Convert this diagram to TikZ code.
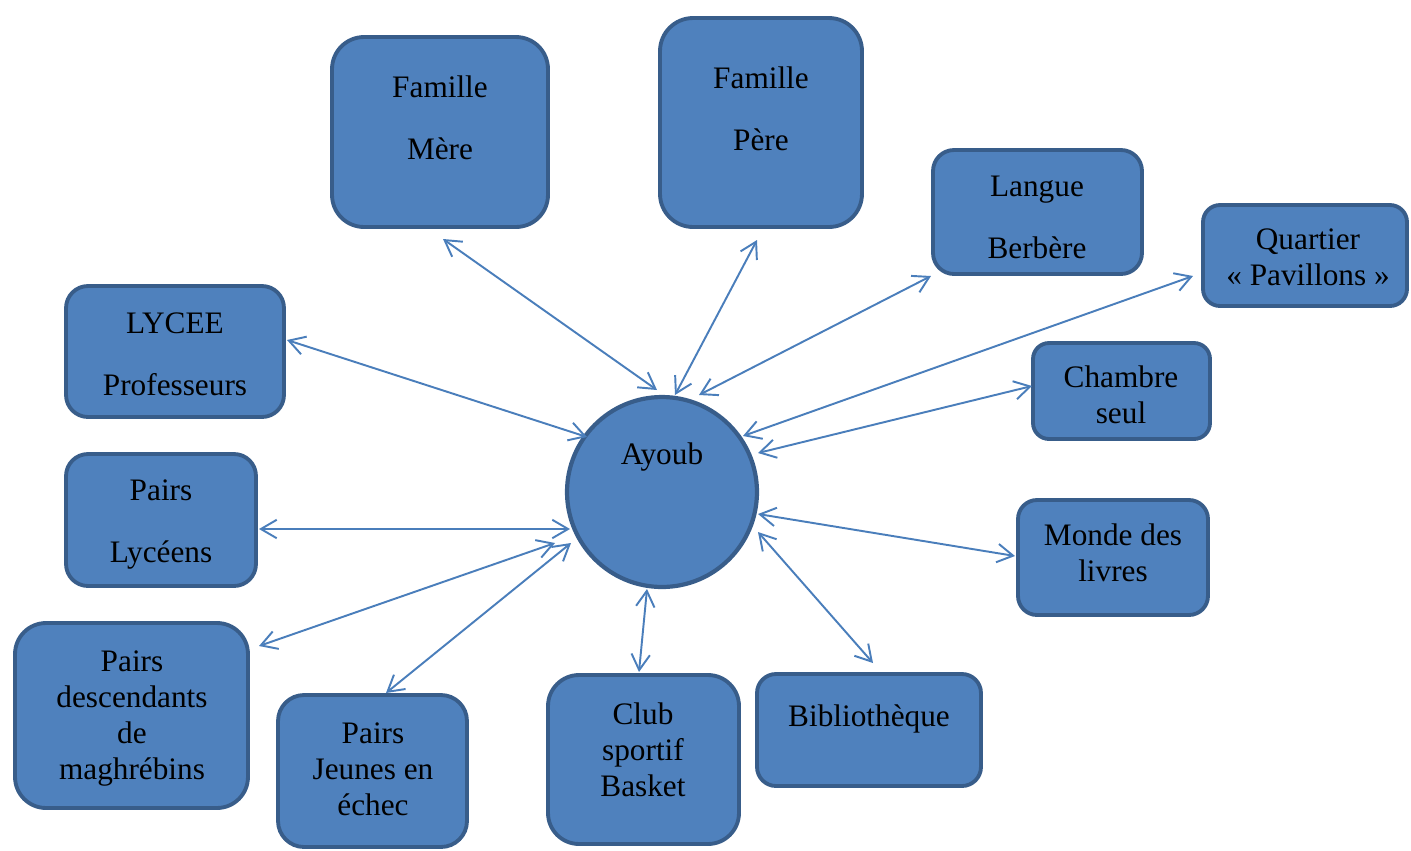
\documentclass[tikz,border=0pt]{standalone}
\usepackage{fontspec}
\setmainfont{Liberation Serif}
\usetikzlibrary{arrows.meta}
\definecolor{boxfill}{HTML}{4F81BD}
\definecolor{boxborder}{HTML}{385D8A}
\definecolor{arrowcol}{HTML}{4A7EBB}
\begin{document}
\begin{tikzpicture}[x=0.02cm,y=-0.02cm,
  box/.style={draw=boxborder, fill=boxfill, line width=2.2pt, inner sep=0pt, outer sep=0pt, rectangle},
  ring/.style={draw=boxborder, fill=boxfill, line width=2.4pt, circle, inner sep=0pt, outer sep=0pt, minimum size=3.8cm},
  txt/.style={align=center, inner sep=0pt, anchor=base, font=\fontsize{17.8}{20.4}\selectfont, text=black},
  link/.style={draw=arrowcol, line width=1.1pt, {Straight Barb[length=9pt,width=10.5pt]}-{Straight Barb[length=9pt,width=10.5pt]}}
]
\useasboundingbox (0,0) rectangle (1411,850);

% boxes
\node[box, rounded corners=0.64cm, minimum width=4.32cm, minimum height=3.80cm] (mere) at (440,132) {};
\node[box, rounded corners=0.66cm, minimum width=4.04cm, minimum height=4.18cm] (pere) at (761,122.5) {};
\node[box, rounded corners=0.42cm, minimum width=4.18cm, minimum height=2.48cm] (langue) at (1037.5,212) {};
\node[box, rounded corners=0.34cm, minimum width=4.08cm, minimum height=2.02cm] (quartier) at (1305,255.5) {};
\node[box, rounded corners=0.44cm, minimum width=4.36cm, minimum height=2.62cm] (lycee) at (175,351.5) {};
\node[box, rounded corners=0.32cm, minimum width=3.54cm, minimum height=1.92cm] (chambre) at (1121.5,391) {};
\node[box, rounded corners=0.44cm, minimum width=3.80cm, minimum height=2.64cm] (lyceens) at (161,520) {};
\node[box, rounded corners=0.38cm, minimum width=3.80cm, minimum height=2.30cm] (monde) at (1113,557.5) {};
\node[box, rounded corners=0.62cm, minimum width=4.66cm, minimum height=3.70cm] (desc) at (131.5,715.5) {};
\node[box, rounded corners=0.52cm, minimum width=3.78cm, minimum height=3.04cm] (jeunes) at (372.5,771) {};
\node[box, rounded corners=0.62cm, minimum width=3.82cm, minimum height=3.38cm] (club) at (643.5,759.5) {};
\node[box, rounded corners=0.38cm, minimum width=4.48cm, minimum height=2.24cm] (biblio) at (869,730) {};
\node[ring] (ayoub) at (662,492) {};

% texts (anchored at the baseline of the last line)
\node[txt] (mereT) at (440,159) {Famille\\[14.8pt]Mère};
\node[txt] (pereT) at (761,150) {Famille\\[14.8pt]Père};
\node[txt] (langueT) at (1037,258) {Langue\\[14.8pt]Berbère};
\node[txt] (quartierT) at (1308,285) {Quartier\\« Pavillons »};
\node[txt] (lyceeT) at (175,395) {LYCEE\\[14.8pt]Professeurs};
\node[txt] (chambreT) at (1121,423) {Chambre\\seul};
\node[txt] (lyceensT) at (161,562) {Pairs\\[14.8pt]Lycéens};
\node[txt] (mondeT) at (1113,581) {Monde des\\livres};
\node[txt] (descT) at (132,779) {Pairs\\descendants\\de\\maghrébins};
\node[txt] (jeunesT) at (373,815) {Pairs\\Jeunes en\\échec};
\node[txt] (clubT) at (643,796) {Club\\sportif\\Basket};
\node[txt] (biblioT) at (869,726) {Bibliothèque};
\node[txt] (ayoubT) at (662,464) {Ayoub};

% connector end points
\coordinate (mereA) at (443,239);   \coordinate (mereB) at (657,390);
\coordinate (pereA) at (757,240);   \coordinate (pereB) at (675,395);
\coordinate (langueA) at (931,276); \coordinate (langueB) at (699,395);
\coordinate (quartierA) at (1193,276); \coordinate (quartierB) at (743,436);
\coordinate (lyceeA) at (287,340);  \coordinate (lyceeB) at (587,437);
\coordinate (chambreA) at (1032,386); \coordinate (chambreB) at (758,453);
\coordinate (lyceensA) at (259,529); \coordinate (lyceensB) at (570,529);
\coordinate (mondeA) at (1015,556); \coordinate (mondeB) at (758,514);
\coordinate (descA) at (259,646);   \coordinate (descB) at (555,543);
\coordinate (jeunesA) at (386,693); \coordinate (jeunesB) at (571,543);
\coordinate (clubA) at (639,672);   \coordinate (clubB) at (647,589);
\coordinate (biblioA) at (873,663); \coordinate (biblioB) at (758,532);

% connectors
\draw[link] (mereA) -- (mereB);
\draw[link] (pereA) -- (pereB);
\draw[link] (langueA) -- (langueB);
\draw[link] (quartierA) -- (quartierB);
\draw[link] (lyceeA) -- (lyceeB);
\draw[link] (chambreA) -- (chambreB);
\draw[link] (lyceensA) -- (lyceensB);
\draw[link] (mondeA) -- (mondeB);
\draw[link] (descA) -- (descB);
\draw[link] (jeunesA) -- (jeunesB);
\draw[link] (clubA) -- (clubB);
\draw[link] (biblioA) -- (biblioB);
\end{tikzpicture}
\end{document}
